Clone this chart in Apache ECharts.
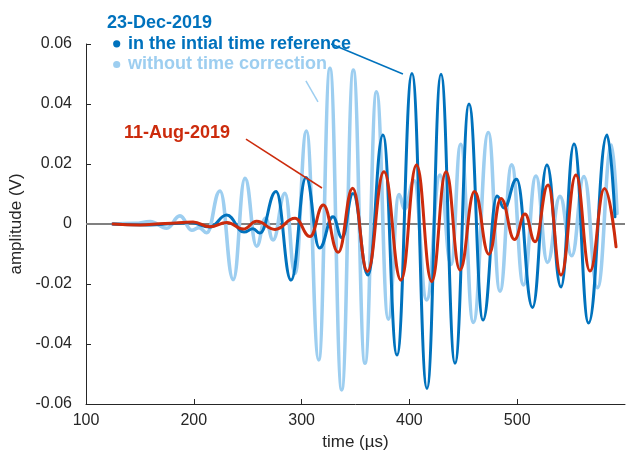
<!DOCTYPE html>
<html>
<head>
<meta charset="utf-8">
<script src="https://cdn.jsdelivr.net/npm/echarts@6/dist/echarts.min.js"></script>
<style>
  html, body { margin: 0; padding: 0; background: #fff; }
  #chart { width: 627px; height: 453px; }
</style>
</head>
<body>
<div id="chart"></div>
<script>
// Waveform extrema [time (µs), amplitude (V)], drawn as smooth curves
const timeInitialRef = [125.0, 159.4, 182.6, 196.5, 215.0, 230.5, 246.6, 254.9, 261.4, 276.3, 290.2, 304.1, 316.6, 329.1, 337.5, 347.7, 361.6, 375.5, 388.5, 402.4, 416.3, 429.3, 442.3, 455.3, 468.3, 481.3, 487.8, 499.5, 514.2, 527.6, 540.6, 552.7, 566.2, 583.3, 590.7];
const ampInitialRef  = [0, -0.0003, 0.0002, 0.0005, -0.001, 0.003, -0.0027, -0.0016, -0.003, 0.0108, -0.0187, 0.0155, -0.008, 0.0024, -0.0046, 0.0102, -0.017, 0.0297, -0.0437, 0.0502, -0.0548, 0.0499, -0.0464, 0.040, -0.032, 0.0093, 0.0053, 0.0149, -0.0278, 0.0197, -0.021, 0.0267, -0.033, 0.0297, 0.0024];

const timeNoCorr = [125.0, 145.5, 159.4, 174.9, 187.2, 198.1, 204.8, 212.0, 224.3, 236.6, 247.5, 258.3, 266.5, 273.5, 284.6, 293.9, 304.5, 315.9, 326.3, 337.2, 348.0, 358.8, 369.5, 380.4, 390.4, 395.5, 404.3, 416.0, 428.4, 438.6, 447.6, 459.3, 473.2, 484.0, 494.9, 505.8, 517.4, 528.1, 539.7, 550.6, 561.9, 574.5, 587.5, 592.6];
const ampNoCorr  = [0, 0.0002, 0.0008, -0.0014, 0.0027, -0.0021, -0.0012, -0.0029, 0.011, -0.0185, 0.0152, -0.0074, 0.0019, -0.0053, 0.0102, -0.0165, 0.031, -0.0453, 0.0519, -0.0553, 0.0513, -0.0464, 0.0441, -0.0317, 0.0098, 0.005, 0.0145, -0.0253, 0.0163, -0.0135, 0.0266, -0.0328, 0.0305, -0.0224, 0.0197, -0.0203, 0.016, -0.0128, 0.0092, -0.0106, 0.0158, -0.0212, 0.0263, 0.0035];

const timeAug = [125.0, 150.1, 173.3, 199.3, 215.0, 230.8, 245.9, 258.3, 275.3, 293.9, 307.8, 320.1, 334.0, 347.4, 361.1, 376.4, 392.2, 406.6, 420.7, 434.0, 446.9, 460.4, 473.8, 485.0, 497.5, 507.2, 516.5, 528.6, 540.6, 554.5, 567.5, 581.0, 591.7];
const ampAug  = [0, -0.0003, 0.0002, 0.0007, -0.0009, 0.0005, -0.0017, 0.0009, -0.0018, 0.0019, -0.0042, 0.0063, -0.0094, 0.0119, -0.0158, 0.0174, -0.0187, 0.0197, -0.0192, 0.0174, -0.0153, 0.0108, -0.0101, 0.0085, -0.0052, 0.0033, -0.0059, 0.013, -0.017, 0.0163, -0.0157, 0.0118, -0.0076];

// Axis ticks
const xTicks = [100, 200, 300, 400, 500];
const yTicks = [-0.06, -0.04, -0.02, 0, 0.02, 0.04, 0.06];
const yTickLabels = ['-0.06', '-0.04', '-0.02', '0', '0.02', '0.04', '0.06'];
const zeroLine = [[100, 0], [600, 0]];

// Leader lines [from, to] in data coordinates
const leaderInitialRef = [[327.4, 0.06], [394.0, 0.0500]];
const leaderNoCorr = [[304.0, 0.0477], [315.2, 0.0407]];
const leaderAug = [[248.4, 0.0283], [318.9, 0.0120]];

const C_DARK = '#0072BD';
const C_LIGHT = '#9DCEF0';
const C_RED = '#CC2B0C';
const C_AXIS = '#262626';
const FONT = '"Liberation Sans", Arial, Helvetica, sans-serif';

const zip = (xs, ys) => xs.map((x, i) => [x, ys[i]]);
const leader = (pts, color) => ({
  silent: true,
  symbol: 'none',
  animation: false,
  label: { show: false },
  lineStyle: { color: color, width: 1.5, type: 'solid' },
  emphasis: { disabled: true },
  data: [[{ coord: pts[0] }, { coord: pts[1] }]]
});

const wave = (name, data, color, width, z, pts) => ({
  name: name,
  type: 'line',
  data: data,
  showSymbol: false,
  smooth: 0.45,
  smoothMonotone: 'x',
  z: z,
  lineStyle: { color: color, width: width, cap: 'round', join: 'round' },
  itemStyle: { color: color },
  emphasis: { disabled: true },
  markLine: leader(pts, color)
});

const chart = echarts.init(document.getElementById('chart'), null, { renderer: 'canvas' });
chart.setOption({
  animation: false,
  backgroundColor: '#ffffff',
  grid: { left: 86, right: 2, top: 44, bottom: 49, containLabel: false, outerBoundsMode: 'none' },
  xAxis: {
    type: 'value',
    min: 100, max: 600, interval: 100,
    name: 'time (µs)',
    nameLocation: 'middle',
    nameGap: 29,
    nameTextStyle: { color: C_AXIS, fontSize: 17, fontFamily: FONT },
    axisLine: { show: true, onZero: false, lineStyle: { color: C_AXIS, width: 1 } },
    axisTick: { show: true, inside: true, length: 5, customValues: xTicks, lineStyle: { color: C_AXIS } },
    axisLabel: { customValues: xTicks, color: C_AXIS, fontSize: 16, fontFamily: FONT, margin: 9 },
    splitLine: { show: false }
  },
  yAxis: {
    type: 'value',
    min: -0.06, max: 0.06, interval: 0.02,
    name: 'amplitude (V)',
    nameLocation: 'middle',
    nameGap: 58,
    nameTextStyle: { color: C_AXIS, fontSize: 17, fontFamily: FONT },
    axisLine: { show: true, onZero: false, lineStyle: { color: C_AXIS, width: 1 } },
    axisTick: { show: true, inside: true, length: 5, lineStyle: { color: C_AXIS } },
    axisLabel: {
      color: C_AXIS, fontSize: 16, fontFamily: FONT, margin: 14,
      formatter: v => {
        const i = yTicks.findIndex(t => Math.abs(t - v) < 1e-9);
        return i >= 0 ? yTickLabels[i] : '';
      }
    },
    splitLine: { show: false }
  },
  series: [
    {
      name: 'zero',
      type: 'line',
      data: zeroLine,
      showSymbol: false,
      z: 1,
      lineStyle: { color: '#808080', width: 2 },
      emphasis: { disabled: true }
    },
    wave('without time correction', zip(timeNoCorr, ampNoCorr), C_LIGHT, 3.6, 2, leaderNoCorr),
    wave('in the intial time reference', zip(timeInitialRef, ampInitialRef), C_DARK, 3, 3, leaderInitialRef),
    wave('11-Aug-2019', zip(timeAug, ampAug), C_RED, 3, 4, leaderAug)
  ],
  graphic: [
    { type: 'text', left: 107, top: 14, style: { text: '23-Dec-2019', fill: C_DARK, font: 'bold 18px ' + FONT } },
    { type: 'circle', shape: { cx: 116.7, cy: 43.8, r: 3.6 }, style: { fill: C_DARK } },
    { type: 'text', left: 128, top: 35, style: { text: 'in the intial time reference', fill: C_DARK, font: 'bold 18px ' + FONT } },
    { type: 'circle', shape: { cx: 116.7, cy: 64.5, r: 3.6 }, style: { fill: C_LIGHT } },
    { type: 'text', left: 128, top: 55.5, style: { text: 'without time correction', fill: C_LIGHT, font: 'bold 18px ' + FONT } },
    { type: 'text', left: 124, top: 124.5, style: { text: '11-Aug-2019', fill: C_RED, font: 'bold 18px ' + FONT } }
  ]
});
</script>
</body>
</html>
